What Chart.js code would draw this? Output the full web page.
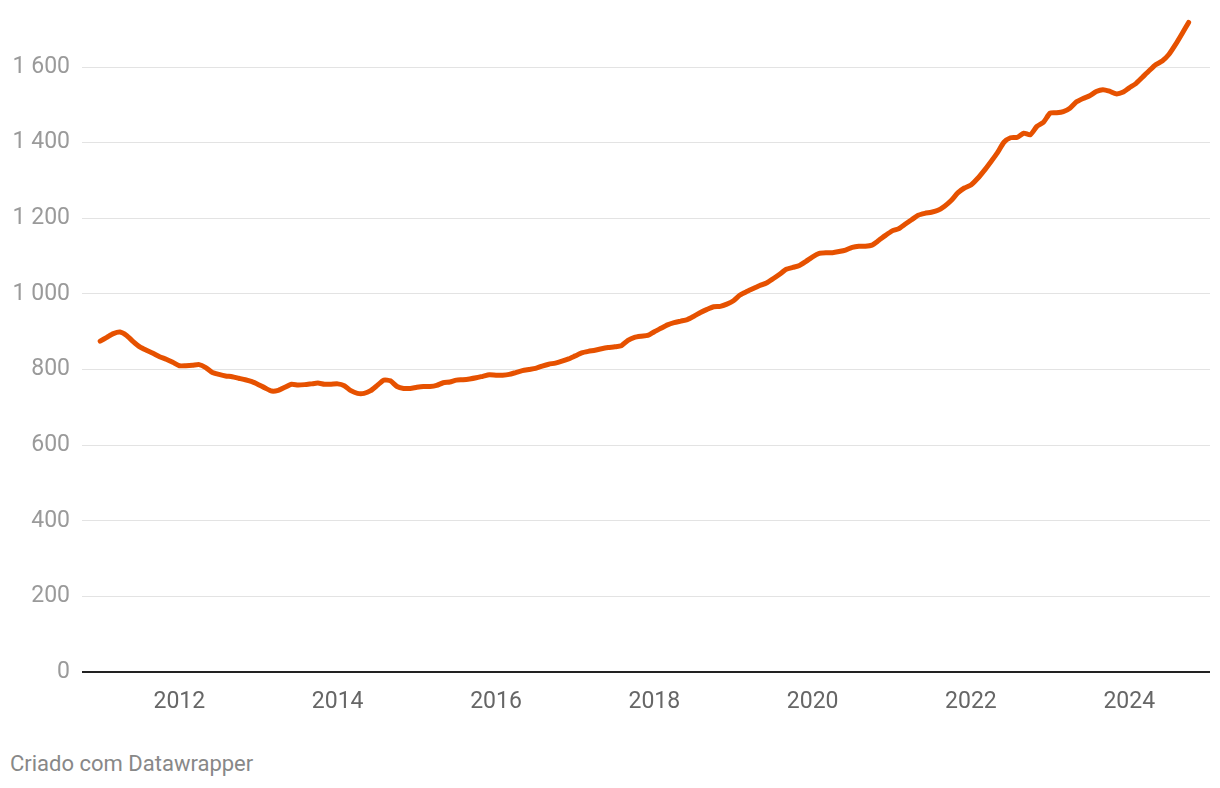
<!DOCTYPE html>
<html>
<head>
<meta charset="utf-8">
<script src="https://cdn.jsdelivr.net/npm/chart.js@4/dist/chart.umd.min.js"></script>
<style>
    body { margin: 0; background: #fff; font-family: Roboto, sans-serif; }
    #wrap { position: relative; width: 1220px; height: 720px; }
    #footer { position: absolute; left: 10px; top: 751px; font-size: 22px; color: #888; }
</style>
</head>
<body>
<div id="wrap"><canvas id="priceChart"></canvas></div>
<div id="footer">Criado com Datawrapper</div>
<script>
// serie mensal, jan 2011 -> out 2024
var startYear = 2011;
var values = [
    875, 885, 895, 899, 890, 874, 860, 851, 843, 834, 827, 819,
    810, 810, 811, 813, 805, 792, 787, 783, 781, 777, 773, 768,
    760, 751, 743, 745, 753, 761, 759, 760, 762, 764, 761, 761,
    762, 757, 744, 737, 737, 744, 758, 772, 770, 755, 750, 750,
    753, 755, 755, 758, 765, 767, 772, 773, 775, 778, 782, 786,
    785, 785, 787, 792, 797, 800, 803, 809, 814, 817, 822, 828,
    836, 844, 848, 851, 855, 858, 860, 863, 877, 885, 888, 890,
    900, 909, 918, 924, 928, 932, 941, 951, 959, 966, 967, 973,
    982, 997, 1006, 1014, 1022, 1029, 1040, 1052, 1065, 1070, 1075, 1086,
    1098, 1107, 1109, 1109, 1112, 1116, 1123, 1126, 1126, 1129, 1141, 1154,
    1166, 1172, 1184, 1196, 1208, 1213, 1216, 1221, 1232, 1247, 1267, 1280,
    1288, 1305, 1326, 1349, 1373, 1401, 1413, 1414, 1425, 1421, 1443, 1454,
    1478, 1479, 1482, 1491, 1508, 1517, 1524, 1535, 1540, 1536, 1529, 1533,
    1545, 1556, 1573, 1590, 1606, 1616, 1633, 1659, 1688, 1718
];
var xTicks = [2012, 2014, 2016, 2018, 2020, 2022, 2024];
var yTicks = [0, 200, 400, 600, 800, 1000, 1200, 1400, 1600];

var points = values.map(function (v, i) {
    return { x: startYear + i / 12, y: v };
});

function fmt(v) {
    return String(v).replace(/\B(?=(\d{3})+$)/, ' ');
}

var ctx = document.getElementById('priceChart').getContext('2d');
var chart = new Chart(ctx, {
    type: 'line',
    data: {
        datasets: [{
            data: points,
            borderColor: '#e65100',
            borderWidth: 5,
            pointRadius: 0,
            tension: 0.2,
            borderCapStyle: 'round',
            borderJoinStyle: 'round',
            clip: false,
            fill: false
        }]
    },
    options: {
        responsive: true,
        maintainAspectRatio: false,
        animation: false,
        layout: { padding: { top: 0, right: 10, left: 0, bottom: 0 } },
        plugins: { legend: { display: false }, tooltip: { enabled: false } },
        scales: {
            x: {
                type: 'linear',
                min: 2010.77,
                max: 2025.02,
                grid: { display: false },
                border: { display: false },
                afterBuildTicks: function (scale) {
                    scale.ticks = xTicks.map(function (v) { return { value: v }; });
                },
                afterFit: function (scale) { scale.height = 48; },
                ticks: {
                    color: '#666',
                    font: { family: 'Roboto', size: 23 },
                    padding: 8,
                    maxRotation: 0,
                    callback: function (v) { return String(v); }
                }
            },
            y: {
                min: 0,
                max: 1709,
                border: { display: false },
                grid: {
                    drawTicks: false,
                    color: function (c) { return c.tick && c.tick.value === 0 ? '#222' : '#e3e3e3'; },
                    lineWidth: function (c) { return c.tick && c.tick.value === 0 ? 2 : 1; }
                },
                afterBuildTicks: function (scale) {
                    scale.ticks = yTicks.map(function (v) { return { value: v }; });
                },
                afterFit: function (scale) { scale.width = 82; },
                ticks: {
                    color: '#9a9a9a',
                    font: { family: 'Roboto', size: 23 },
                    padding: 12,
                    callback: function (v) { return fmt(v); }
                }
            }
        }
    }
});
</script>
</body>
</html>
